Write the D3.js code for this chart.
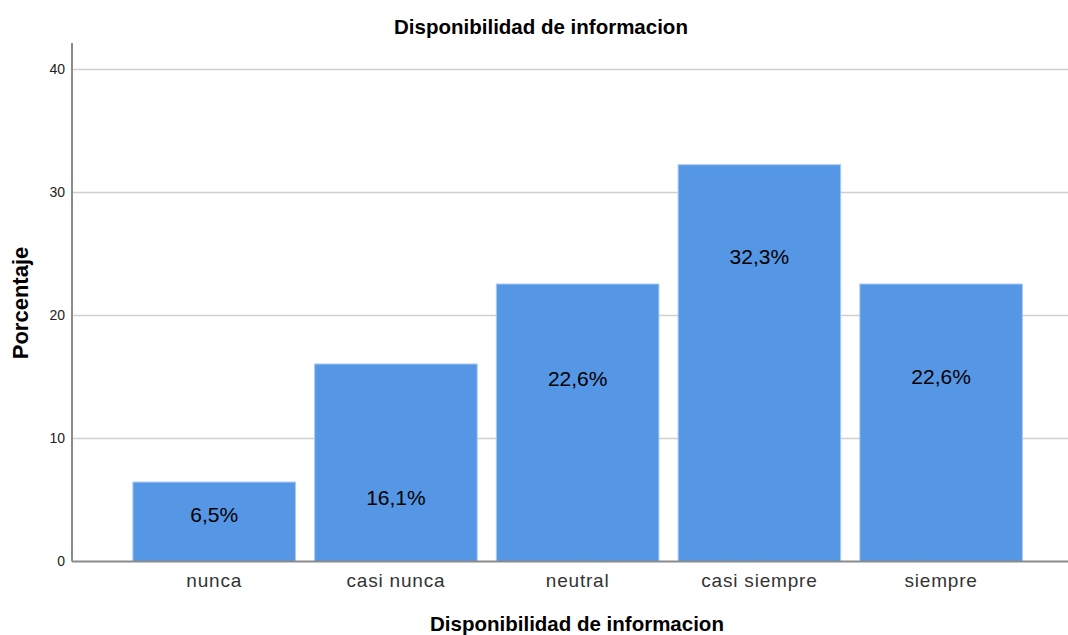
<!DOCTYPE html>
<html><head><meta charset="utf-8">
<script src="https://cdn.jsdelivr.net/npm/d3@7"></script>
<style>body{margin:0;background:#fff}svg{display:block}text{font-family:"Liberation Sans",Arial,sans-serif}</style>
</head><body>
<svg id="c" width="1068" height="635"></svg>
<script>
const categories = ["nunca","casi nunca","neutral","casi siempre","siempre"];
const percentages = [6.5, 16.1, 22.6, 32.3, 22.6];
const valueLabels = ["6,5%","16,1%","22,6%","32,3%","22,6%"];
const labelAnchors = [3.8, 5.2, 14.85, 24.75, 15.0];
const yTicks = [0, 10, 20, 30, 40];
const title = "Disponibilidad de informacion";
const xTitle = "Disponibilidad de informacion";
const yTitle = "Porcentaje";

const svg = d3.select("#c");
const plot = {left:72, right:1068, top:43, bottom:561.5};
const x = d3.scaleBand().domain(categories).range([123.3, 1032]).paddingInner(0.1).paddingOuter(0.05);
const y = d3.scaleLinear().domain([0, 40]).range([561.5, 69.5]);

// gridlines
svg.append("g").selectAll("line").data(yTicks.filter(d=>d>0)).join("line")
  .attr("x1", plot.left).attr("x2", plot.right)
  .attr("y1", d=>y(d)).attr("y2", d=>y(d))
  .attr("stroke","#cfcfcf").attr("stroke-width",1.5);

// bars
svg.append("g").selectAll("rect").data(percentages).join("rect")
  .attr("x",(d,i)=>x(categories[i])+0.5).attr("width",x.bandwidth()-1)
  .attr("y",d=>y(d)+0.5).attr("height",d=>y(0)-y(d)-0.5)
  .attr("fill","#5596e5").attr("stroke","#a9c9f1").attr("stroke-width",1);

// value labels
svg.append("g").selectAll("text").data(valueLabels).join("text")
  .attr("x",(d,i)=>x(categories[i])+x.bandwidth()/2)
  .attr("y",(d,i)=>y(labelAnchors[i]))
  .attr("dy","0.35em").attr("text-anchor","middle")
  .attr("font-size",21).attr("fill","#000").text(d=>d);

// axes
const yAxis = d3.axisLeft(y).tickValues(yTicks).tickSize(0).tickPadding(7);
const gy = svg.append("g").attr("transform",`translate(${plot.left},0)`).call(yAxis);
gy.select(".domain").remove();
gy.selectAll("text").attr("font-size",14).attr("fill","#222").attr("font-family","'Liberation Sans',Arial,sans-serif");

const xAxis = d3.axisBottom(x).tickSize(0).tickPadding(12);
const gx = svg.append("g").attr("transform",`translate(0,${plot.bottom})`).call(xAxis);
gx.select(".domain").remove();
gx.selectAll("text").attr("font-size",19).attr("letter-spacing","0.8px").attr("fill","#333").attr("font-family","'Liberation Sans',Arial,sans-serif");

svg.append("line").attr("x1",plot.left).attr("x2",plot.left).attr("y1",plot.top).attr("y2",plot.bottom)
  .attr("stroke","#8a8a8a").attr("stroke-width",2);
svg.append("line").attr("x1",plot.left).attr("x2",plot.right).attr("y1",plot.bottom).attr("y2",plot.bottom)
  .attr("stroke","#8a8a8a").attr("stroke-width",2);

svg.append("text").attr("x",541).attr("y",34).attr("text-anchor","middle")
  .attr("font-size",20.5).attr("font-weight","bold").text(title);
svg.append("text").attr("x",577).attr("y",631).attr("text-anchor","middle")
  .attr("font-size",20.5).attr("font-weight","bold").text(xTitle);
svg.append("text").attr("transform","translate(28,303) rotate(-90)").attr("text-anchor","middle")
  .attr("font-size",22).attr("font-weight","bold").text(yTitle);
</script>
</body></html>
